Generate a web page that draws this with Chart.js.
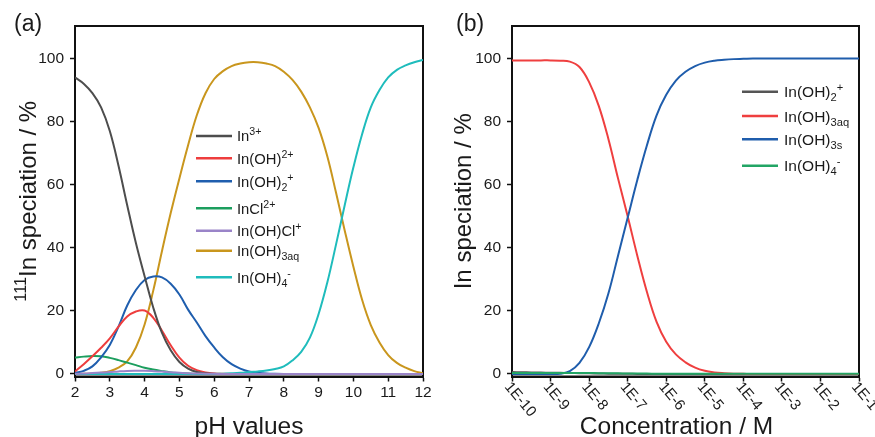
<!DOCTYPE html>
<html>
<head>
<meta charset="utf-8">
<script src="https://cdn.jsdelivr.net/npm/chart.js@4.4.1/dist/chart.umd.min.js"></script>
<style>
  html, body { margin: 0; padding: 0; background: #fff; }
  #wrap { position: relative; width: 875px; height: 437px; }
  canvas { position: absolute; top: 0; }
</style>
</head>
<body>
<div id="wrap">
  <canvas id="chartA" width="440" height="437" style="left:0"></canvas>
  <canvas id="chartB" width="435" height="437" style="left:440px"></canvas>
</div>
<script>
const FONT = "'Liberation Sans', Arial, Helvetica, sans-serif";
const INK  = '#1a1a1a';

// ---- panel (a): speciation vs pH ----
const ph      = [2, 2.25, 2.5, 2.75, 3, 3.25, 3.5, 3.75, 4, 4.25, 4.5, 4.75, 5, 5.25, 5.5, 5.75, 6, 6.25, 6.5, 6.75, 7,
                 7.25, 7.5, 7.75, 8, 8.25, 8.5, 8.75, 9, 9.25, 9.5, 9.75, 10, 10.25, 10.5, 10.75, 11, 11.25, 11.5, 11.75, 12];
const in3     = [94, 92, 89, 84.5, 77, 66, 53.5, 41.5, 31, 21, 13, 7.5, 3.8, 1.7, 0.6, 0.2, 0.05, 0, 0, 0, 0,
                 0, 0, 0, 0, 0, 0, 0, 0, 0, 0, 0, 0, 0, 0, 0, 0, 0, 0, 0, 0];
const inOH    = [0.8, 3.1, 5.6, 8.3, 11.3, 15, 18.2, 19.8, 20.1, 17.8, 13.7, 9.1, 5.2, 2.6, 1.2, 0.5, 0.15, 0.05, 0, 0, 0,
                 0, 0, 0, 0, 0, 0, 0, 0, 0, 0, 0, 0, 0, 0, 0, 0, 0, 0, 0, 0];
const inOH2   = [0.3, 1, 2.4, 5.3, 9.2, 15, 21.7, 26.6, 29.8, 30.9, 30.6, 28.6, 25.2, 20.4, 16.3, 12, 8.4, 5.3, 3.1, 1.7, 0.8,
                 0.4, 0.15, 0.05, 0, 0, 0, 0, 0, 0, 0, 0, 0, 0, 0, 0, 0, 0, 0, 0, 0];
const inCl    = [5.2, 5.5, 5.7, 5.6, 5.1, 4.4, 3.6, 2.8, 2, 1.4, 0.9, 0.5, 0.3, 0.15, 0.05, 0, 0, 0, 0, 0, 0,
                 0, 0, 0, 0, 0, 0, 0, 0, 0, 0, 0, 0, 0, 0, 0, 0, 0, 0, 0, 0];
const inOHCl  = [0.05, 0.15, 0.3, 0.45, 0.6, 0.8, 0.95, 1, 1, 0.9, 0.75, 0.55, 0.4, 0.25, 0.15, 0.1, 0.05, 0, 0, 0, 0,
                 0, 0, 0, 0, 0, 0, 0, 0, 0, 0, 0, 0, 0, 0, 0, 0, 0, 0, 0, 0];
const inOH3aq = [0, 0.05, 0.15, 0.4, 0.9, 2, 4, 8.4, 15.7, 26.5, 39, 51, 62, 72.5, 82, 89, 93.5, 96, 97.6, 98.4, 98.8,
                 98.8, 98.4, 97.6, 95.8, 93.2, 89.5, 84.5, 78, 69, 57.5, 45.5, 34, 23.5, 15.5, 10, 6, 3.5, 2, 0.9, 0.2];
const inOH4   = [0, 0, 0, 0, 0, 0, 0, 0, 0, 0, 0, 0, 0, 0, 0, 0, 0, 0.1, 0.2, 0.35, 0.6,
                 0.8, 1.1, 1.6, 2.4, 4.3, 7, 11.5, 19, 29, 41, 53.5, 65.5, 76, 84.5, 90, 94, 96.4, 97.8, 98.8, 99.5];

const namesA  = ['In^{3+}', 'In(OH)^{2+}', 'In(OH)_{2}^{+}', 'InCl^{2+}', 'In(OH)Cl^{+}', 'In(OH)_{3aq}', 'In(OH)_{4}^{-}'];
const colorsA = ['#4d4d4d', '#ee3d3d', '#1f5eae', '#1c9e5e', '#9a84c8', '#c9961d', '#1fbcbc'];
const seriesA = [in3, inOH, inOH2, inCl, inOHCl, inOH3aq, inOH4];
const orderA  = [2, 3, 4, 5, 0, 6, 1];
const phTicks  = [2, 3, 4, 5, 6, 7, 8, 9, 10, 11, 12];
const pctTicks = [0, 20, 40, 60, 80, 100];

// ---- panel (b): speciation vs concentration (log10 M) ----
const concExp = [-10, -9.75, -9.5, -9.25, -9, -8.75, -8.5, -8.25, -8, -7.75, -7.5, -7.25, -7, -6.75, -6.5, -6.25, -6, -5.75, -5.5,
                 -5.25, -5, -4.75, -4.5, -4.25, -4, -3.75, -3.5, -3.25, -3, -2.75, -2.5, -2.25, -2, -1.75, -1.5, -1.25, -1];
const bOH2    = [0.6, 0.55, 0.5, 0.45, 0.4, 0.35, 0.3, 0.25, 0.2, 0.15, 0.1, 0.08, 0.05, 0.03, 0.02, 0.01, 0, 0, 0,
                 0, 0, 0, 0, 0, 0, 0, 0, 0, 0, 0, 0, 0, 0, 0, 0, 0, 0];
const bOH3aq  = [99.4, 99.4, 99.4, 99.4, 99.4, 99.3, 99, 97.3, 92.5, 85, 74.5, 62, 50, 37.5, 26, 16.5, 10.2, 6.2, 3.7,
                 2, 1, 0.5, 0.25, 0.1, 0.05, 0, 0, 0, 0, 0, 0, 0, 0, 0, 0, 0, 0];
const bOH3s   = [0, 0, 0, 0, 0, 0.1, 0.9, 3.5, 8.5, 16, 25.5, 37.5, 49.5, 61.5, 72.5, 82, 88.5, 93, 95.8,
                 97.6, 98.7, 99.3, 99.6, 99.8, 99.9, 100, 100, 100, 100, 100, 100, 100, 100, 100, 100, 100, 100];
const bOH4    = [0.3, 0.3, 0.3, 0.3, 0.3, 0.3, 0.3, 0.29, 0.28, 0.26, 0.23, 0.2, 0.17, 0.14, 0.12, 0.1, 0.1, 0.1, 0.1,
                 0.1, 0.1, 0.1, 0.1, 0.1, 0.1, 0.1, 0.1, 0.1, 0.1, 0.1, 0.1, 0.1, 0.1, 0.1, 0.1, 0.1, 0.1];

const namesB  = ['In(OH)_{2}^{+}', 'In(OH)_{3aq}', 'In(OH)_{3s}', 'In(OH)_{4}^{-}'];
const colorsB = ['#555555', '#ef3f3f', '#1f5dac', '#22a565'];
const seriesB = [bOH2, bOH3aq, bOH3s, bOH4];
const orderB  = [3, 2, 1, 0];
const concTickExp    = [-10, -9, -8, -7, -6, -5, -4, -3, -2, -1];
const concTickLabels = ['1E-10', '1E-9', '1E-8', '1E-7', '1E-6', '1E-5', '1E-4', '1E-3', '1E-2', '1E-1'];

// tiny markup: ^{..} superscript, _{..} subscript
function parseRich(str) {
    const parts = [];
    const re = /([_^])\{([^}]*)\}|([^_^]+)/g;
    let m;
    while ((m = re.exec(str))) {
        if (m[3]) parts.push({ t: m[3], k: 0 });
        else parts.push({ t: m[2], k: m[1] === '^' ? 1 : -1 });
    }
    return parts;
}

function drawRich(ctx, str, x, y, size, measureOnly, small) {
    let cx = x;
    const r = small || 0.68;
    parseRich(str).forEach(p => {
        const s = p.k ? size * r : size;
        ctx.font = s + 'px ' + FONT;
        const dy = p.k === 1 ? -size * 0.42 : (p.k === -1 ? size * 0.26 : 0);
        if (!measureOnly) ctx.fillText(p.t, cx, y + dy);
        cx += ctx.measureText(p.t).width;
    });
    return cx - x;
}

const framePlugin = {
    id: 'frame',
    beforeDatasetsDraw(chart) {
        const { ctx, chartArea: a } = chart;
        ctx.save();
        ctx.strokeStyle = '#111';
        ctx.lineWidth = 2;
        ctx.strokeRect(a.left, a.top, a.right - a.left, a.bottom - a.top);
        ctx.restore();
    }
};

const legendPlugin = {
    id: 'specLegend',
    afterDatasetsDraw(chart, args, opts) {
        const ctx = chart.ctx;
        ctx.save();
        ctx.textAlign = 'left';
        ctx.textBaseline = 'alphabetic';
        chart.data.datasets.forEach((ds, i) => {
            const y = opts.rows[i];
            ctx.strokeStyle = ds.borderColor;
            ctx.lineWidth = 2.5;
            ctx.beginPath();
            ctx.moveTo(opts.x0, y);
            ctx.lineTo(opts.x1, y);
            ctx.stroke();
            ctx.fillStyle = INK;
            drawRich(ctx, opts.names[i], opts.tx, y + opts.size * 0.37, opts.size, false, 0.72);
        });
        ctx.restore();
    }
};

const textPlugin = {
    id: 'panelText',
    afterDraw(chart, args, opts) {
        const { ctx, chartArea: a } = chart;
        ctx.save();
        ctx.fillStyle = INK;
        ctx.textAlign = 'left';
        ctx.textBaseline = 'alphabetic';
        ctx.font = '23px ' + FONT;
        ctx.fillText(opts.tag, opts.tagX, 31);

        const cx = (a.left + a.right) / 2 + opts.xShift;
        const w = drawRich(ctx, opts.xTitle, 0, 0, 24.5, true);
        drawRich(ctx, opts.xTitle, cx - w / 2, 434, 24.5);

        ctx.translate(opts.yTitleX, (a.top + a.bottom) / 2);
        ctx.rotate(-Math.PI / 2);
        const wy = drawRich(ctx, opts.yTitle, 0, 0, 24, true);
        drawRich(ctx, opts.yTitle, -wy / 2, 0, 24);
        ctx.restore();
    }
};

// slanted decade labels under the log axis
const slantPlugin = {
    id: 'slantTicks',
    afterDraw(chart, args, opts) {
        if (!opts.labels) return;
        const { ctx, chartArea: a } = chart;
        const sx = chart.scales.x;
        ctx.save();
        ctx.fillStyle = INK;
        ctx.font = '15px ' + FONT;
        ctx.textAlign = 'left';
        ctx.textBaseline = 'top';
        opts.exps.forEach((e, i) => {
            const x = sx.getPixelForValue(Math.pow(10, e));
            ctx.save();
            ctx.translate(x + 1, a.bottom + 3);
            ctx.rotate(50 * Math.PI / 180);
            ctx.fillText(opts.labels[i], 0, 0);
            ctx.restore();
        });
        ctx.restore();
    }
};

function axisCommon() {
    return {
        grid: { drawOnChartArea: false, tickLength: 5, tickWidth: 1.5, tickColor: '#111' },
        border: { color: '#111', width: 2 }
    };
}

function yAxis() {
    return Object.assign(axisCommon(), {
        min: -0.8, max: 110.3,
        afterBuildTicks: s => { s.ticks = pctTicks.map(v => ({ value: v })); },
        ticks: { font: { family: FONT, size: 15.5 }, color: INK, padding: 6 }
    });
}

Chart.defaults.font.family = FONT;

new Chart(document.getElementById('chartA'), {
    type: 'line',
    data: {
        datasets: seriesA.map((s, i) => ({
            label: namesA[i].replace(/[_^{}]/g, ''),
            data: ph.map((x, j) => ({ x: x, y: s[j] })),
            borderColor: colorsA[i],
            borderWidth: 2,
            pointRadius: 0,
            tension: 0.4,
            order: orderA[i]
        }))
    },
    options: {
        responsive: false,
        devicePixelRatio: 1,
        animation: false,
        layout: { padding: { top: 26, right: 17, left: 0, bottom: 0 } },
        scales: {
            x: Object.assign(axisCommon(), {
                type: 'linear', min: 2, max: 12,
                afterBuildTicks: s => { s.ticks = phTicks.map(v => ({ value: v })); },
                afterFit: s => { s.height = 60.5; },
                ticks: { font: { family: FONT, size: 15.5 }, color: INK, padding: 2, maxRotation: 0 }
            }),
            y: Object.assign(yAxis(), { afterFit: s => { s.width = 75; } })
        },
        plugins: {
            legend: { display: false },
            tooltip: { enabled: false },
            specLegend: { names: namesA, x0: 196, x1: 232, tx: 237, size: 14.8,
                          rows: [136, 158.3, 181.3, 208.3, 230.7, 250.7, 277.3] },
            panelText: { tag: '(a)', tagX: 14, xTitle: 'pH values', xShift: 0,
                         yTitle: '^{111}In speciation / %', yTitleX: 36 },
            slantTicks: {}
        }
    },
    plugins: [framePlugin, legendPlugin, textPlugin, slantPlugin]
});

new Chart(document.getElementById('chartB'), {
    type: 'line',
    data: {
        datasets: seriesB.map((s, i) => ({
            label: namesB[i].replace(/[_^{}]/g, ''),
            data: concExp.map((e, j) => ({ x: Math.pow(10, e), y: s[j] })),
            borderColor: colorsB[i],
            borderWidth: 2,
            pointRadius: 0,
            tension: 0.4,
            order: orderB[i]
        }))
    },
    options: {
        responsive: false,
        devicePixelRatio: 1,
        animation: false,
        layout: { padding: { top: 26, right: 16, left: 0, bottom: 0 } },
        scales: {
            x: Object.assign(axisCommon(), {
                type: 'logarithmic', min: 1e-10, max: 1e-1,
                afterBuildTicks: s => { s.ticks = concTickExp.map(e => ({ value: Math.pow(10, e) })); },
                afterFit: s => { s.height = 60.5; },
                ticks: { display: false }
            }),
            y: Object.assign(yAxis(), { afterFit: s => { s.width = 72; } })
        },
        plugins: {
            legend: { display: false },
            tooltip: { enabled: false },
            specLegend: { names: namesB, x0: 302, x1: 338, tx: 344, size: 15.5,
                          rows: [91.7, 116, 139.3, 165.7] },
            panelText: { tag: '(b)', tagX: 16, xTitle: 'Concentration / M', xShift: -9,
                         yTitle: 'In speciation / %', yTitleX: 31 },
            slantTicks: { exps: concTickExp, labels: concTickLabels }
        }
    },
    plugins: [framePlugin, legendPlugin, textPlugin, slantPlugin]
});
</script>
</body>
</html>
